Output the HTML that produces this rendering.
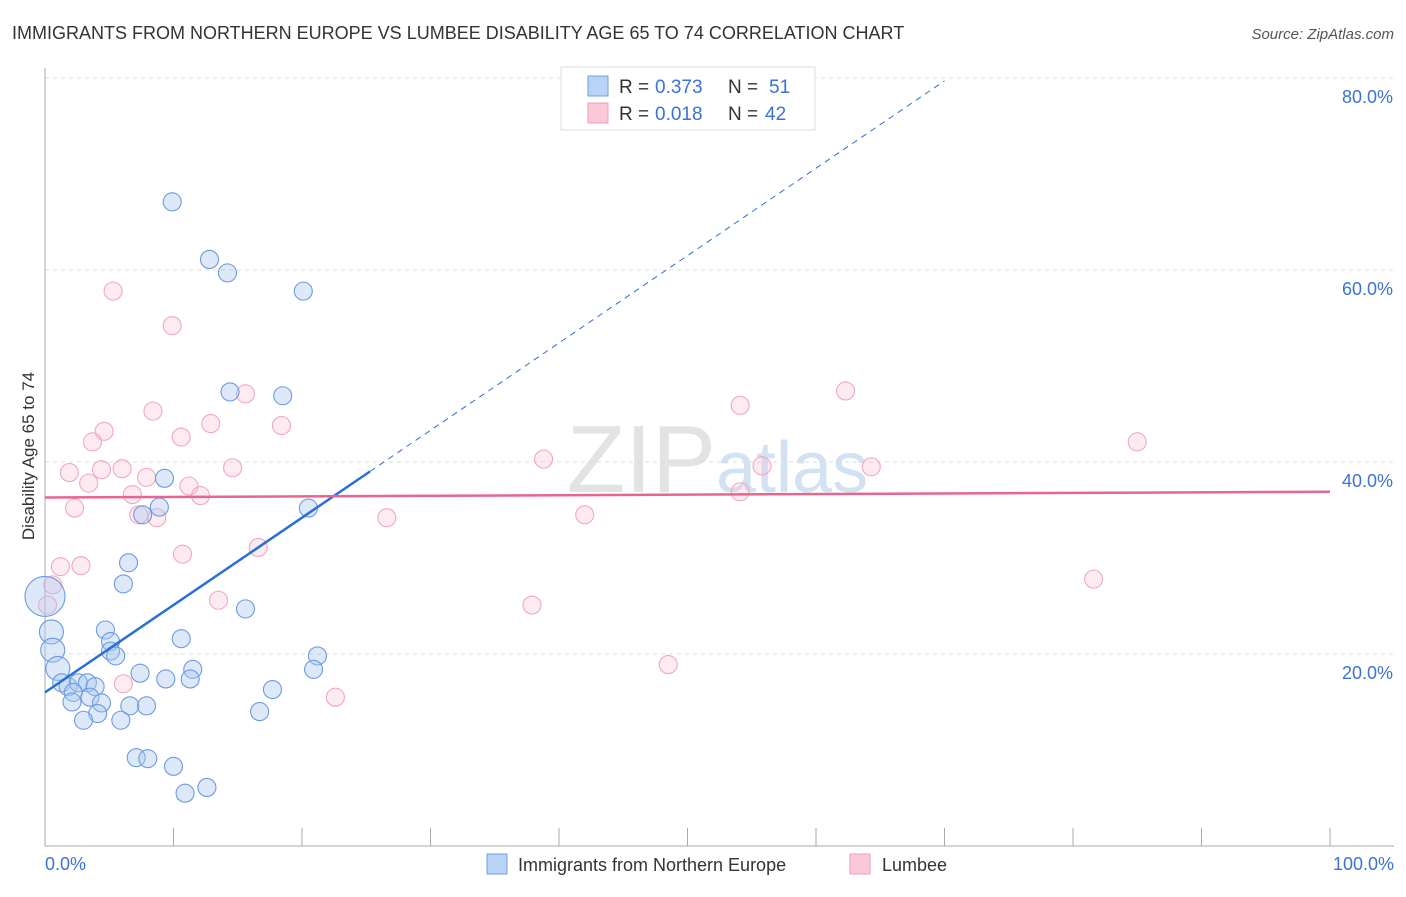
<!DOCTYPE html>
<html><head><meta charset="utf-8"><style>
body{margin:0;background:#fff;font-family:"Liberation Sans",sans-serif}
svg text{font-family:"Liberation Sans",sans-serif}
</style></head><body>
<svg id="c" width="1406" height="892">
<text x="12" y="39" font-size="18" fill="#333">IMMIGRANTS FROM NORTHERN EUROPE VS LUMBEE DISABILITY AGE 65 TO 74 CORRELATION CHART</text>
<text x="1394" y="39" font-size="15" fill="#555" text-anchor="end" font-style="italic">Source: ZipAtlas.com</text>
<text x="716" y="492" font-size="96" fill="#e3e3e3" text-anchor="end" font-family="Liberation Serif">ZIP</text>
<text x="716" y="492" font-size="72" fill="#d2e2f3">atlas</text>
<g id="grid"></g><g id="marks"></g>
<text transform="translate(34,456) rotate(-90)" font-size="17" fill="#333" text-anchor="middle">Disability Age 65 to 74</text>
<text x="45" y="870" font-size="18" fill="#3a72d8">0.0%</text>
<text x="1394" y="870" font-size="18" fill="#3a72d8" text-anchor="end">100.0%</text>
<g>
<rect x="561" y="67" width="254" height="63" fill="#fff" stroke="#ddd"/>
<rect x="588" y="76" width="20" height="20" fill="#b8d3f5" stroke="#6fa0e0"/>
<rect x="588" y="103" width="20" height="20" fill="#fac8d8" stroke="#eea0b8"/>
<text x="619" y="93" font-size="19" fill="#333">R =</text>
<text x="655" y="93" font-size="19" fill="#3a72d8">0.373</text>
<text x="728" y="93" font-size="19" fill="#333">N =</text>
<text x="769" y="93" font-size="19" fill="#3a72d8">51</text>
<text x="619" y="120" font-size="19" fill="#333">R =</text>
<text x="655" y="120" font-size="19" fill="#3a72d8">0.018</text>
<text x="728" y="120" font-size="19" fill="#333">N =</text>
<text x="765" y="120" font-size="19" fill="#3a72d8">42</text>
</g>
<g>
<rect x="487" y="854" width="20" height="20" fill="#b8d3f5" stroke="#6fa0e0"/>
<text x="518" y="871" font-size="18" fill="#333">Immigrants from Northern Europe</text>
<rect x="850" y="854" width="20" height="20" fill="#fac8d8" stroke="#eea0b8"/>
<text x="882" y="871" font-size="18" fill="#333">Lumbee</text>
</g>
</svg>
<script>
const blueX=[9.9,12.8,14.2,20.1,14.4,18.5,9.3,8.9,7.6,20.5,6.5,6.1,15.6,4.7,5.1,5.1,5.5,10.6,0.5,0.6,1.0,21.2,20.9,7.4,9.4,11.5,11.3,1.3,1.8,2.6,3.3,3.9,2.2,2.1,3.5,4.4,6.6,7.9,4.1,3.0,5.9,17.7,16.7,7.1,8.0,10.0,10.9,12.6,0.0];
const blueY=[67.1,61.1,59.7,57.8,47.3,46.9,38.3,35.3,34.5,35.2,29.5,27.3,24.7,22.5,21.3,20.3,19.8,21.6,22.3,20.4,18.5,19.8,18.4,18.0,17.4,18.4,17.4,17.0,16.6,17.0,17.0,16.6,16.0,15.0,15.5,14.9,14.6,14.6,13.8,13.1,13.1,16.3,14.0,9.2,9.1,8.3,5.5,6.1,26.0];
const pinkX=[5.3,9.9,8.4,3.7,4.6,10.6,12.9,15.6,18.4,1.9,4.4,6.0,14.6,3.4,7.9,11.2,6.8,12.1,2.3,7.3,8.7,10.7,16.6,1.2,2.8,0.6,0.2,13.5,6.1,22.6,26.6,38.8,42.0,37.9,48.5,54.1,55.8,54.1,62.3,64.3,85.0,81.6];
const pinkY=[57.8,54.2,45.3,42.1,43.2,42.6,44.0,47.1,43.8,38.9,39.2,39.3,39.4,37.8,38.4,37.5,36.6,36.5,35.2,34.5,34.2,30.4,31.1,29.1,29.2,27.2,25.1,25.6,16.9,15.5,34.2,40.3,34.5,25.1,18.9,45.9,39.6,36.9,47.4,39.5,42.1,27.8];
const blueTrend=[16.0,0.91];
const pinkTrend=[36.3,0.006];
const yTicks=[20,40,60,80];
const NS='http://www.w3.org/2000/svg';
const sx=v=>45+v*12.85, sy=v=>846-v*9.6;
function mk(t,a,p){const e=document.createElementNS(NS,t);for(const k in a)e.setAttribute(k,a[k]);p.appendChild(e);return e;}
const g=document.getElementById('grid'), m=document.getElementById('marks');
mk('line',{x1:45,y1:78,x2:1394,y2:78,stroke:'#ddd','stroke-dasharray':'4,4'},g);
yTicks.forEach(t=>{
 const l=mk('line',{x1:45,y1:sy(t),x2:1394,y2:sy(t),stroke:'#ddd','stroke-dasharray':'4,4'},g);
 
 
 const tx=mk('text',{x:1393,y:sy(t)+25,'font-size':18,fill:'#3a72d8','text-anchor':'end'},g);
 tx.textContent=t.toFixed(1)+'%';
 
 
});
mk('line',{x1:45,y1:68,x2:45,y2:846,stroke:'#aaa'},g);
mk('line',{x1:45,y1:846,x2:1394,y2:846,stroke:'#aaa'},g);
for(let k=0;k<=10;k++){mk('line',{x1:sx(k*10),y1:828,x2:sx(k*10),y2:846,stroke:'#aaa'},g);}
function dots(X,Y,fill,stroke,name){X.forEach((x,i)=>{
 const r=(i===X.length-1&&name==='blue')?20:(x<1.1&&name==='blue'?12:9);
 const c=mk('circle',{cx:sx(x),cy:sy(Y[i]),r:r,fill:fill,stroke:stroke,'stroke-width':1.1},m);
 
 
});}
dots(pinkX,pinkY,'rgba(248,190,210,0.3)','#f0a8c0','pink');
dots(blueX,blueY,'rgba(170,200,240,0.4)','#6b9be0','blue');
const b1=mk('line',{x1:sx(0),y1:sy(blueTrend[0]),x2:sx(25.3),y2:sy(blueTrend[0]+blueTrend[1]*25.3),stroke:'#2a6fd6','stroke-width':2.5},m);


const b2=mk('line',{x1:sx(25.3),y1:sy(blueTrend[0]+blueTrend[1]*25.3),x2:sx(70),y2:sy(blueTrend[0]+blueTrend[1]*70),stroke:'#2a6fd6','stroke-width':1,'stroke-dasharray':'6,5'},m);


const p1=mk('line',{x1:sx(0),y1:sy(pinkTrend[0]),x2:sx(100),y2:sy(pinkTrend[0]+pinkTrend[1]*100),stroke:'#e8658f','stroke-width':2.5},m);


</script>
</body></html>
